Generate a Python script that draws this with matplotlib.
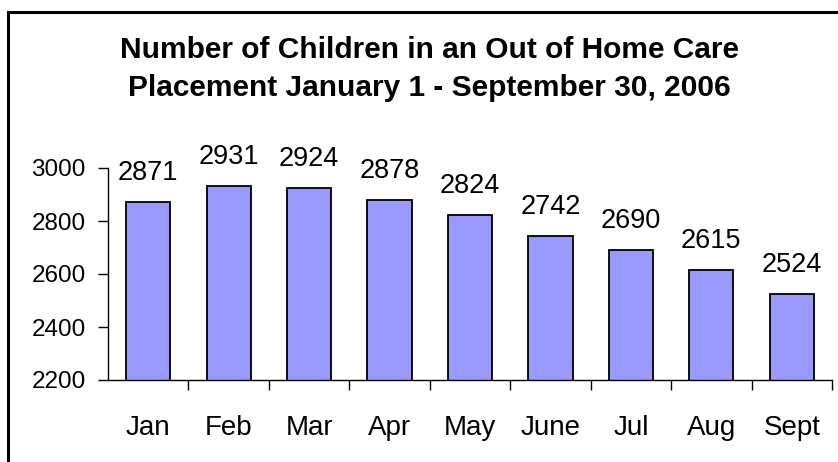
import matplotlib.pyplot as plt
from matplotlib.lines import Line2D

plt.rcParams['font.family'] = ['Liberation Sans', 'DejaVu Sans']

# data
months = ["Jan", "Feb", "Mar", "Apr", "May", "June", "Jul", "Aug", "Sept"]
counts = [2871, 2931, 2924, 2878, 2824, 2742, 2690, 2615, 2524]
yticks = [2200, 2400, 2600, 2800, 3000]

W, H = 838, 462
fig = plt.figure(figsize=(W / 100, H / 100), dpi=100)
ax = fig.add_axes([108 / W, 1 - 380 / H, (832 - 108) / W, (380 - 168) / H])

x = list(range(len(months)))
bars = ax.bar(x, counts, width=0.55, color="#9999FF", edgecolor="black",
              linewidth=1.3, bottom=0)

for xi, v in zip(x, counts):
    ax.annotate(str(v), (xi, v), xytext=(0, 11.5), textcoords="offset points",
                ha="center", va="bottom", fontsize=19.5, clip_on=False)

ax.set_xlim(-0.5, len(months) - 0.5)
ax.set_ylim(2200, 3000)
ax.set_yticks(yticks)
ax.set_yticklabels([str(t) for t in yticks], fontsize=17.5)

# category ticks sit between the bars
ax.set_xticks([i + 0.5 for i in range(len(months))])
ax.set_xticklabels([])
ax.set_xticks(x, minor=True)
ax.set_xticklabels(months, minor=True, fontsize=20)
ax.tick_params(axis="x", which="major", length=7, width=1, direction="out")
ax.tick_params(axis="x", which="minor", length=0, pad=25)
ax.tick_params(axis="y", length=7, width=1, direction="out", pad=9)

for s in ["top", "right"]:
    ax.spines[s].set_visible(False)
for s in ["left", "bottom"]:
    ax.spines[s].set_linewidth(1)

fig.text(0.5 * (120 + 738) / W, 1 - 69 / H,
         "Number of Children in an Out of Home Care\nPlacement January 1 - September 30, 2006",
         ha="center", va="center", fontsize=21.5, fontweight="bold", linespacing=1.5)

# outer frame (only top and left edges are in view)
fig.add_artist(Line2D([8 / W, 8 / W], [0, 1 - 12 / H], color="black", lw=2.2,
                      transform=fig.transFigure))
fig.add_artist(Line2D([8 / W, 1], [1 - 12 / H, 1 - 12 / H], color="black", lw=2.2,
                      transform=fig.transFigure))

fig.savefig("out.png", dpi=100)
